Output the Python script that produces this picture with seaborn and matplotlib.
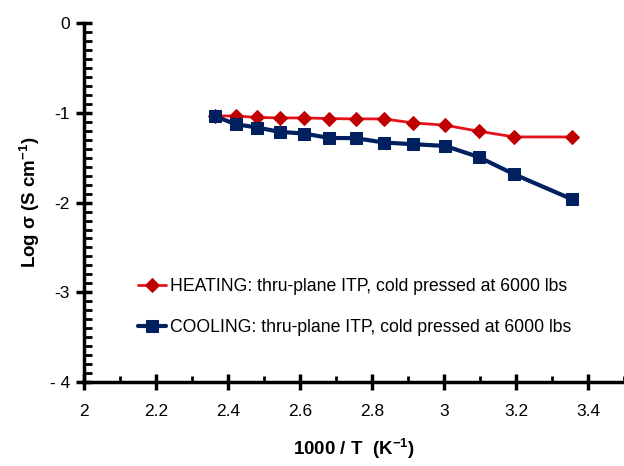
import seaborn as sns
import matplotlib.pyplot as plt
import numpy as np
import pandas as pd
from matplotlib.ticker import MultipleLocator, FixedLocator, FixedFormatter

# 1000/T values (K^-1) and log conductivity
inv_t = [2.364, 2.421, 2.481, 2.545, 2.611, 2.681, 2.755,
         2.833, 2.915, 3.003, 3.096, 3.195, 3.356]
heating = [-1.035, -1.035, -1.052, -1.057, -1.057, -1.064, -1.068,
           -1.068, -1.113, -1.138, -1.205, -1.269, -1.269]
cooling = [-1.038, -1.127, -1.164, -1.213, -1.231, -1.280, -1.283,
           -1.331, -1.350, -1.369, -1.492, -1.685, -1.964]

heat_label = 'HEATING: thru-plane ITP, cold pressed at 6000 lbs'
cool_label = 'COOLING: thru-plane ITP, cold pressed at 6000 lbs'

x_ticks = [2, 2.2, 2.4, 2.6, 2.8, 3, 3.2, 3.4]
x_tick_labels = ['2', '2.2', '2.4', '2.6', '2.8', '3', '3.2', '3.4']
y_ticks = [0, -1, -2, -3, -4]
y_tick_labels = ['0', '-1', '-2', '-3', '- 4']

sns.set_style('white')
plt.rcParams['font.family'] = ['Liberation Sans', 'DejaVu Sans']
plt.rcParams['mathtext.fontset'] = 'custom'
plt.rcParams['mathtext.rm'] = 'Liberation Sans'
plt.rcParams['mathtext.bf'] = 'Liberation Sans:bold'
for key in ['text.color', 'axes.labelcolor', 'xtick.color', 'ytick.color']:
    plt.rcParams[key] = 'black'

df = pd.DataFrame({'x': inv_t, 'heating': heating, 'cooling': cooling})

fig = plt.figure(figsize=(6.24, 4.66), dpi=100)
ax = fig.add_axes([0.1346, 0.180, 0.8654, 0.7706])

sns.lineplot(data=df, x='x', y='heating', ax=ax, color='#e8101a',
             linewidth=2, marker='D', markersize=7,
             markerfacecolor='#c00000', markeredgecolor='#c00000',
             label=heat_label, zorder=3)
sns.lineplot(data=df, x='x', y='cooling', ax=ax, color='#002060',
             linewidth=3, marker='s', markersize=9,
             markerfacecolor='#002060', markeredgecolor='#002060',
             label=cool_label, zorder=4)

ax.set_xlim(2, 3.5)
ax.set_ylim(-4, 0)
ax.xaxis.set_major_locator(FixedLocator(x_ticks))
ax.xaxis.set_major_formatter(FixedFormatter(x_tick_labels))
ax.yaxis.set_major_locator(FixedLocator(y_ticks))
ax.yaxis.set_major_formatter(FixedFormatter(y_tick_labels))
ax.xaxis.set_minor_locator(MultipleLocator(0.1))
ax.yaxis.set_minor_locator(MultipleLocator(0.1))

for side in ['top', 'right']:
    ax.spines[side].set_visible(False)
for side in ['left', 'bottom']:
    ax.spines[side].set_linewidth(2.5)
    ax.spines[side].set_color('black')

ax.tick_params(which='both', bottom=True, left=True, top=False, right=False)
ax.tick_params(which='major', direction='inout', length=12, width=2.5,
               labelsize=12.5, color='black')
ax.tick_params(axis='x', which='major', pad=10)
ax.tick_params(axis='y', which='major', pad=4)
ax.tick_params(which='minor', direction='in', length=6, width=2,
               color='black')
ax.tick_params(axis='x', which='minor', length=4)

ax.set_xlabel(r'1000 / T  (K$^{\mathregular{-1}}$)', fontsize=13.5,
              fontweight='bold', labelpad=12)
ax.set_ylabel(r'Log σ (S cm$^{\mathregular{-1}}$)', fontsize=13.5,
              fontweight='bold', labelpad=6)

ax.legend(loc='lower left', bbox_to_anchor=(0.07, 0.085), frameon=False,
          fontsize=12.7, handlelength=1.6, handletextpad=0.25,
          labelspacing=1.35)

fig.savefig('out.png', dpi=100)
